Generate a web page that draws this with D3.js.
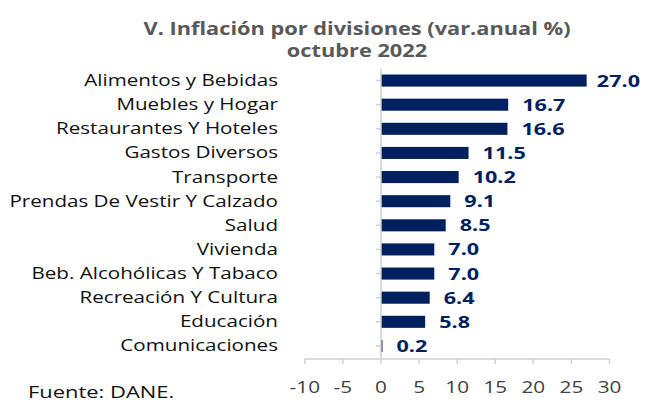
<!DOCTYPE html>
<html>
<head>
<meta charset="utf-8">
<script src="https://cdn.jsdelivr.net/npm/d3@7"></script>
<style>
  html, body { margin: 0; padding: 0; background: #fff; }
  svg text { font-family: "Open Sans", "Noto Sans", sans-serif; }
</style>
</head>
<body>
<svg id="chart" width="645" height="402"></svg>
<script>
// Data
const categories = [
  'Alimentos y Bebidas', 'Muebles y Hogar', 'Restaurantes Y Hoteles', 'Gastos Diversos',
  'Transporte', 'Prendas De Vestir Y Calzado', 'Salud', 'Vivienda',
  'Beb. Alcohólicas Y Tabaco', 'Recreación Y Cultura', 'Educación', 'Comunicaciones',
];
const values = [27.0, 16.7, 16.6, 11.5, 10.2, 9.1, 8.5, 7.0, 7.0, 6.4, 5.8, 0.2];
const xTicks = [-10, -5, 0, 5, 10, 15, 20, 25, 30];
const titleLines = ['V. Inflación por divisiones (var.anual %)', 'octubre 2022'];
const sourceNote = 'Fuente: DANE.';

const NAVY = '#002060';
const AXIS = '#d0d0d0';
// reference text is wider than the fonts we have, so stretch it horizontally
const STRETCH = 1.33;
const VALUE_STRETCH = 1.35;
const TICK_STRETCH = 1.22;
const TITLE_STRETCH = 1.21;
const NOTE_STRETCH = 1.29;

const svg = d3.select('#chart');

const x = d3.scaleLinear().domain([-10, 30]).range([304.8, 609.5]);
const y = d3.scaleBand().domain(categories).range([68.5, 358])
  .paddingInner(0.5).paddingOuter(0.25);

// Stretched text helper
function label(g, tx, ty, txt, sx) {
  return g.append('text')
    .attr('transform', `translate(${tx},${ty}) scale(${sx},1)`)
    .text(txt);
}

// Title
const title = svg.append('g')
  .attr('fill', '#595959')
  .attr('font-weight', 700)
  .attr('font-size', 18)
  .attr('text-anchor', 'middle');
titleLines.forEach((t, i) => label(title, 357, 35 + i * 22, t, TITLE_STRETCH));

// Bars
svg.append('g').selectAll('rect')
  .data(values)
  .join('rect')
    .attr('x', (d) => x(Math.min(0, d)))
    .attr('y', (d, i) => y(categories[i]))
    .attr('width', (d) => Math.abs(x(d) - x(0)))
    .attr('height', y.bandwidth())
    .attr('fill', NAVY);

// Category axis (left of the zero line)
const yAxis = svg.append('g');
yAxis.append('line')
  .attr('x1', x(0)).attr('x2', x(0))
  .attr('y1', y.range()[0]).attr('y2', y.range()[1])
  .attr('stroke', AXIS).attr('stroke-width', 1.5);
yAxis.selectAll('.tick')
  .data(categories)
  .join('line')
    .attr('class', 'tick')
    .attr('x1', x(0) - 5).attr('x2', x(0))
    .attr('y1', (d) => y(d) + y.bandwidth() / 2)
    .attr('y2', (d) => y(d) + y.bandwidth() / 2)
    .attr('stroke', AXIS).attr('stroke-width', 1.5);

const catLabels = svg.append('g')
  .attr('fill', '#111')
  .attr('font-size', 15.5)
  .attr('text-anchor', 'end');
categories.forEach((c) => label(catLabels, 278, y(c) + y.bandwidth() / 2 + 5.5, c, STRETCH));

// Value axis at bottom
const xAxis = svg.append('g');
xAxis.append('line')
  .attr('x1', x(-10)).attr('x2', x(30))
  .attr('y1', 359).attr('y2', 359)
  .attr('stroke', AXIS).attr('stroke-width', 1.5);
xAxis.selectAll('.tick')
  .data(xTicks)
  .join('line')
    .attr('class', 'tick')
    .attr('x1', (d) => x(d)).attr('x2', (d) => x(d))
    .attr('y1', 359).attr('y2', 364)
    .attr('stroke', AXIS).attr('stroke-width', 1.5);
const tickLabels = xAxis.append('g')
  .attr('fill', '#404040')
  .attr('font-size', 17)
  .attr('text-anchor', 'middle');
xTicks.forEach((t) => label(tickLabels, x(t), 393, String(t), TICK_STRETCH));

// Value labels
const valLabels = svg.append('g')
  .attr('fill', NAVY)
  .attr('font-weight', 700)
  .attr('font-size', 16);
values.forEach((v, i) => {
  const t = label(valLabels, 0, 0, v.toFixed(1), VALUE_STRETCH);
  const w = t.node().getComputedTextLength() * VALUE_STRETCH;
  const lx = Math.min(x(v) + 14, 640 - w);
  t.attr('transform', `translate(${lx},${y(categories[i]) + y.bandwidth() / 2 + 6}) scale(${VALUE_STRETCH},1)`);
});

// Source note
svg.append('g')
  .attr('fill', '#111')
  .attr('font-size', 17)
  .call((g) => label(g, 28, 398, sourceNote, NOTE_STRETCH));
</script>
</body>
</html>
